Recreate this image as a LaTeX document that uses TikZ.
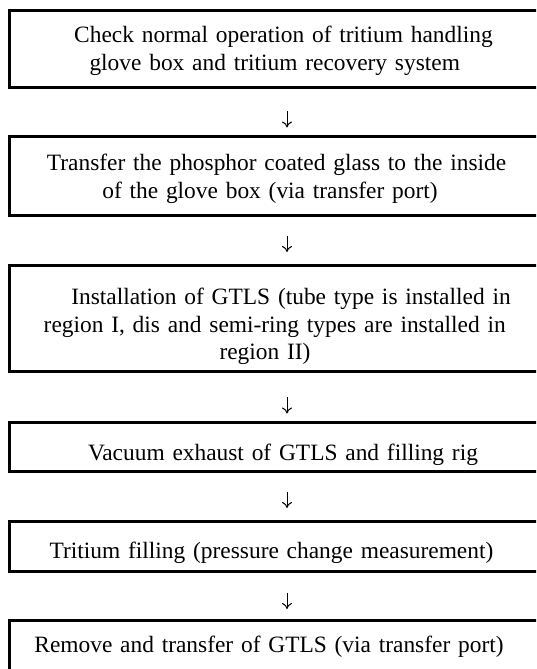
\documentclass[tikz,border=0pt]{standalone}
\usepackage{fontspec}
\setmainfont{Liberation Serif}
\usetikzlibrary{arrows.meta}
\newcommand\myBoxFont{\fontsize{23.4}{27.7}\selectfont}
\newcommand\myLead[1]{\hspace*{#1}}
\newcommand\myTrail[1]{\hspace*{#1}\mbox{}}
\newcommand\myDown[1]{\rule{0pt}{\dimexpr16.5pt+#1\relax}}
\tikzset{
  stepbox/.style={draw=black, line width=3pt, rectangle, minimum width=530.5pt,
    inner sep=0pt, text width=520pt, align=center, font=\myBoxFont},
  flow/.style={line width=1pt, -{To[length=6pt,width=10pt]}}
}
\begin{document}
\begin{tikzpicture}[x=1pt,y=1pt]
\useasboundingbox (0,0) rectangle (536,669);
\fill[white] (0,0) rectangle (536,669);
\clip (0,0) rectangle (536,669);
\coordinate (ax) at (287,0);
\node[stepbox, minimum height=77.3pt] (b1) at (274.75,619.65)
  {\myDown{3pt}\myLead{17.5pt}Check normal operation of tritium handling\\
   glove box and tritium recovery system};
\node[stepbox, minimum height=79pt] (b2) at (274.75,492.5)
  {\myDown{4pt}\myLead{3.7pt}Transfer the phosphor coated glass to the inside\\
   of the glove box (via transfer port)\myTrail{9.5pt}};
\node[stepbox, minimum height=106pt] (b3) at (274.75,350)
  {\myDown{15pt}\myLead{32.5pt}Installation of GTLS (tube type is installed in\\
   region I, dis and semi-ring types are installed in\\
   region II)\myTrail{19.5pt}};
\node[stepbox, minimum height=49pt] (b4) at (274.75,221.5)
  {\myDown{15pt}\myLead{16.5pt}Vacuum exhaust of GTLS and filling rig};
\node[stepbox, minimum height=50pt] (b5) at (274.75,122)
  {\myDown{12pt}Tritium filling (pressure change measurement)\myTrail{6.5pt}};
\node[stepbox, minimum height=51pt] (b6) at (274.75,22.5)
  {\myDown{0pt}Remove and transfer of GTLS (via transfer port)\myTrail{11.5pt}};
\draw[flow, shorten <=22pt, shorten >=8pt] (b1.south -| ax) -- (b2.north -| ax);
\draw[flow, shorten <=18.5pt, shorten >=12.5pt] (b2.south -| ax) -- (b3.north -| ax);
\draw[flow, shorten <=24pt, shorten >=8pt] (b3.south -| ax) -- (b4.north -| ax);
\draw[flow, shorten <=18.5pt, shorten >=12.5pt] (b4.south -| ax) -- (b5.north -| ax);
\draw[flow, shorten <=19.5pt, shorten >=10.5pt] (b5.south -| ax) -- (b6.north -| ax);
\end{tikzpicture}
\end{document}
